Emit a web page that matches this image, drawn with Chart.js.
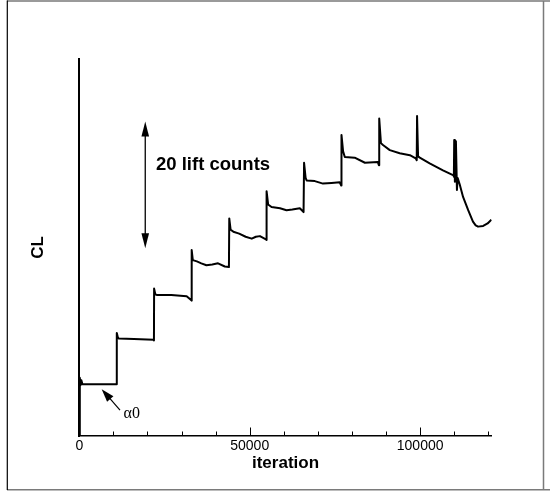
<!DOCTYPE html>
<html>
<head>
<meta charset="utf-8">
<script src="https://cdn.jsdelivr.net/npm/chart.js@4.4.1/dist/chart.umd.min.js"></script>
<style>
html,body{margin:0;padding:0;background:#fff;}
canvas{display:block;}
</style>
</head>
<body>
<canvas id="c" width="550" height="491"></canvas>
<script>
// ---- data (iteration vs CL, CL expressed in lift counts above the axis minimum) ----
const iterations = [
  0, 150, 350, 600, 900, 10900,
  11000, 11300, 11600, 16000, 21800,
  21900, 21950, 22300, 22700, 27000, 31500, 32800,
  32950, 33000, 33300, 34500, 35800, 37300, 39000, 40700, 42700,
  43900, 44000, 44400, 45200, 46900, 48800, 50600, 51800, 53000, 54750,
  54900, 54950, 55400, 56400, 58900, 60800, 62500, 64700, 65800,
  65900, 65950, 66400, 66700, 69100, 71500, 74000, 76400, 76850,
  76900, 76950, 77400, 77900, 80800, 83800, 87600, 87900,
  87950, 88000, 88500, 89100, 91100, 94000, 97000, 98700,
  99000, 99100, 99400, 99900, 102800, 106700, 109800,
  109900, 110000, 110200, 110500, 110800, 111000, 111600, 112600,
  114100, 115500, 116300, 117000, 118500, 119800, 120900
];
const liftCounts = [
  0, 9.2, 8.0, 8.8, 8.2, 8.2,
  16.3, 15.6, 15.4, 15.35, 15.2,
  15.1, 23.3, 22.4, 22.3, 22.3, 22.1, 21.5,
  21.4, 29.4, 27.8, 27.6, 27.3, 27.0, 27.1, 27.3, 26.8,
  26.7, 34.4, 32.6, 32.3, 32.0, 31.5, 31.2, 31.5, 31.6, 31.1,
  31.0, 38.7, 36.6, 36.2, 36.0, 35.7, 35.8, 36.0, 35.4,
  35.4, 43.2, 40.8, 40.4, 40.3, 39.9, 40.0, 40.1, 39.6,
  39.6, 47.6, 45.0, 44.1, 44.0, 43.2, 43.3, 42.8,
  42.8, 50.2, 46.3, 46.0, 45.2, 44.7, 44.4, 43.9,
  43.6, 50.6, 44.2, 44.0, 43.1, 42.0, 41.2,
  41.0, 46.8, 40.2, 46.6, 38.9, 40.8, 39.8, 37.8,
  35.7, 33.9, 33.3, 33.1, 33.2, 33.6, 34.2
];
const xTickValues = [0, 10000, 20000, 30000, 40000, 50000, 60000, 70000, 80000, 90000, 100000, 110000, 120000];
const xLabelValues = [0, 50000, 100000];
const xRange = [0, 121000];
const yRange = [0, 59.6];
const liftArrow = {iteration: 19350, from: 29.7, to: 49.7, label: '20 lift counts', labelIteration: 22500, labelLevel: 42.8};
const alphaArrow = {tipIteration: 6570, tipLevel: 7.4, tailIteration: 11940, tailLevel: 4.1, label: 'α0', labelIteration: 15370, labelLevel: 3.5};

const points = iterations.map((it, i) => ({x: it, y: liftCounts[i]}));
const SANS = '"Liberation Sans", Arial, Helvetica, sans-serif';
const SERIF = '"Liberation Serif", "Times New Roman", serif';

function arrowHead(ctx, fx, fy, tx, ty, len, halfW) {
  const a = Math.atan2(ty - fy, tx - fx);
  ctx.beginPath();
  ctx.moveTo(tx, ty);
  ctx.lineTo(tx - len * Math.cos(a) + halfW * Math.sin(a), ty - len * Math.sin(a) - halfW * Math.cos(a));
  ctx.lineTo(tx - len * Math.cos(a) - halfW * Math.sin(a), ty - len * Math.sin(a) + halfW * Math.cos(a));
  ctx.closePath();
  ctx.fill();
}

const framePlugin = {
  id: 'frame',
  beforeDraw(chart) {
    const ctx = chart.ctx;
    ctx.save();
    ctx.fillStyle = '#fff';
    ctx.fillRect(0, 0, chart.width, chart.height);
    ctx.strokeStyle = '#7a7a7a';
    ctx.lineWidth = 1.5;
    ctx.beginPath();
    ctx.moveTo(7, 1); ctx.lineTo(550, 1);
    ctx.moveTo(7, 489.8); ctx.lineTo(550, 489.8);
    ctx.moveTo(543.5, 1); ctx.lineTo(543.5, 490);
    ctx.stroke();
    ctx.strokeStyle = '#000';
    ctx.lineWidth = 1.2;
    ctx.beginPath();
    ctx.moveTo(7.3, 0.5); ctx.lineTo(7.3, 490);
    ctx.stroke();
    ctx.restore();
  }
};

const tickMarks = {
  id: 'tickMarks',
  afterDraw(chart) {
    const ctx = chart.ctx;
    const xs = chart.scales.x;
    ctx.save();
    ctx.strokeStyle = '#000';
    ctx.lineWidth = 1;
    ctx.beginPath();
    xTickValues.forEach(v => {
      const px = Math.round(xs.getPixelForValue(v)) + 0.5;
      const len = xLabelValues.includes(v) ? 8.5 : 4.5;
      ctx.moveTo(px, xs.top);
      ctx.lineTo(px, xs.top - len);
    });
    ctx.stroke();
    ctx.restore();
  }
};

const annotations = {
  id: 'annotations',
  afterDraw(chart) {
    const ctx = chart.ctx;
    const xs = chart.scales.x, ys = chart.scales.y;
    ctx.save();
    ctx.fillStyle = '#000';
    ctx.strokeStyle = '#000';
    // 20 lift counts double arrow
    const ax = xs.getPixelForValue(liftArrow.iteration);
    const ay1 = ys.getPixelForValue(liftArrow.to);
    const ay2 = ys.getPixelForValue(liftArrow.from);
    ctx.lineWidth = 1.3;
    ctx.beginPath();
    ctx.moveTo(ax, ay1 + 8); ctx.lineTo(ax, ay2 - 8);
    ctx.stroke();
    arrowHead(ctx, ax, ay2, ax, ay1, 15, 3.8);
    arrowHead(ctx, ax, ay1, ax, ay2, 15, 3.8);
    ctx.font = 'bold 18.5px ' + SANS;
    ctx.textAlign = 'left';
    ctx.textBaseline = 'middle';
    ctx.fillText(liftArrow.label, xs.getPixelForValue(liftArrow.labelIteration), ys.getPixelForValue(liftArrow.labelLevel));
    // alpha0 arrow
    const tx = xs.getPixelForValue(alphaArrow.tipIteration), ty = ys.getPixelForValue(alphaArrow.tipLevel);
    const fx = xs.getPixelForValue(alphaArrow.tailIteration), fy = ys.getPixelForValue(alphaArrow.tailLevel);
    ctx.lineWidth = 1.2;
    ctx.beginPath();
    ctx.moveTo(fx, fy);
    const a = Math.atan2(ty - fy, tx - fx);
    ctx.lineTo(tx - 10 * Math.cos(a), ty - 10 * Math.sin(a));
    ctx.stroke();
    arrowHead(ctx, fx, fy, tx, ty, 13, 4.2);
    ctx.font = '16px ' + SERIF;
    ctx.textAlign = 'center';
    ctx.fillText(alphaArrow.label, xs.getPixelForValue(alphaArrow.labelIteration), ys.getPixelForValue(alphaArrow.labelLevel));
    ctx.restore();
  }
};

new Chart(document.getElementById('c'), {
  type: 'line',
  data: {
    datasets: [{
      data: points,
      borderColor: '#000',
      borderWidth: 2,
      pointRadius: 0,
      tension: 0,
      fill: false,
      borderJoinStyle: 'round'
    }]
  },
  options: {
    responsive: false,
    animation: false,
    devicePixelRatio: 1,
    layout: {padding: {top: 59, right: 58.3, left: 0, bottom: 0}},
    plugins: {legend: {display: false}, tooltip: {enabled: false}},
    scales: {
      x: {
        type: 'linear',
        min: xRange[0],
        max: xRange[1],
        afterBuildTicks: s => { s.ticks = xTickValues.map(v => ({value: v})); },
        ticks: {
          autoSkip: false,
          maxRotation: 0,
          padding: 2,
          color: '#000',
          font: {family: SANS, size: 14},
          callback: v => xLabelValues.includes(v) ? String(v) : ''
        },
        grid: {display: false, drawTicks: false, tickLength: 0},
        border: {display: true, color: '#000', width: 1.5},
        title: {display: true, text: 'iteration', color: '#000', font: {family: SANS, size: 17, weight: 'bold'}, padding: {top: 0, bottom: 17.8}},
        afterFit: s => { s.height = 55; }
      },
      y: {
        type: 'linear',
        min: yRange[0],
        max: yRange[1],
        ticks: {display: false},
        grid: {display: false, drawTicks: false, tickLength: 0},
        border: {display: true, color: '#000', width: 2},
        title: {display: true, text: 'CL', color: '#000', font: {family: SANS, size: 17, weight: 'bold'}, padding: {top: 28.3, bottom: 0}},
        afterFit: s => { s.width = 79.3; }
      }
    }
  },
  plugins: [framePlugin, tickMarks, annotations]
});
</script>
</body>
</html>
